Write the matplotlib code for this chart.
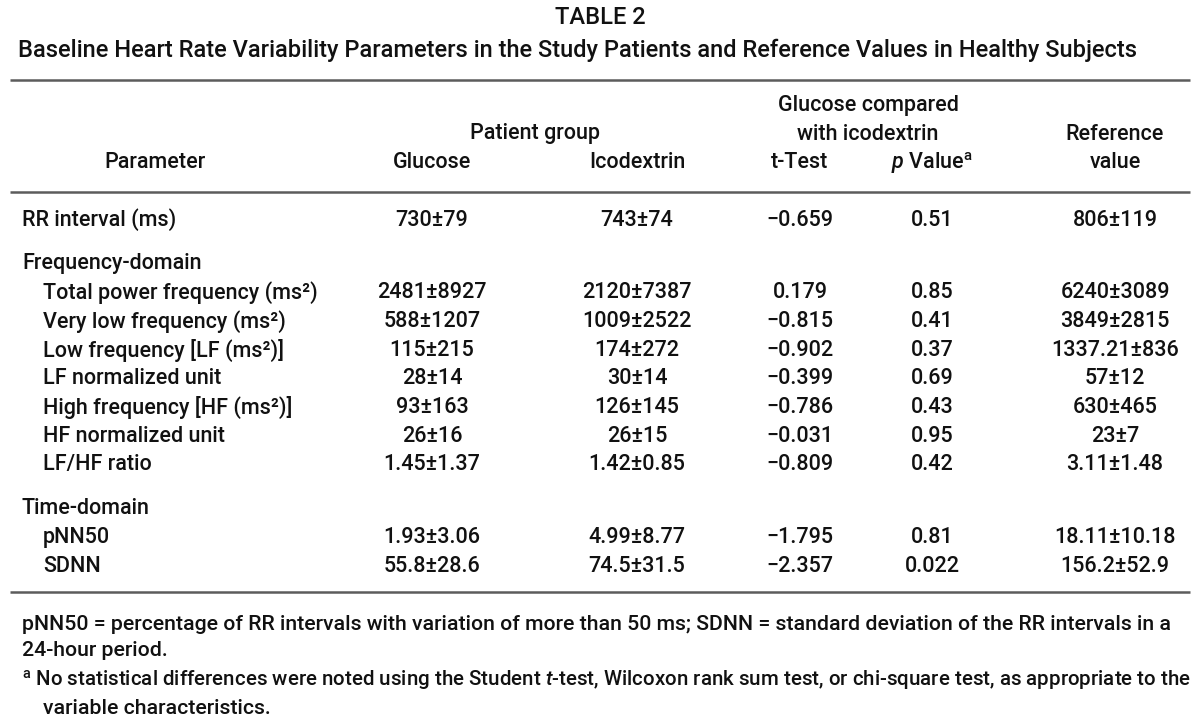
import matplotlib
matplotlib.use("Agg")
import matplotlib.pyplot as plt
from matplotlib import font_manager

# ───────────────────────────────
# DATA
params = ["RR interval (ms)",
          "Frequency-domain",
          "Total power frequency (ms²)",
          "Very low frequency (ms²)",
          "Low frequency [LF (ms²)]",
          "LF normalized unit",
          "High frequency [HF (ms²)]",
          "HF normalized unit",
          "LF/HF ratio",
          "Time-domain",
          "pNN50",
          "SDNN"]
row_kind = ["main", "section", "sub", "sub", "sub", "sub", "sub", "sub", "sub",
            "section", "sub", "sub"]
glucose = ["730±79", "", "2481±8927", "588±1207", "115±215", "28±14", "93±163",
           "26±16", "1.45±1.37", "", "1.93±3.06", "55.8±28.6"]
icodextrin = ["743±74", "", "2120±7387", "1009±2522", "174±272", "30±14", "126±145",
              "26±15", "1.42±0.85", "", "4.99±8.77", "74.5±31.5"]
t_test = ["−0.659", "", "0.179", "−0.815", "−0.902", "−0.399", "−0.786",
          "−0.031", "−0.809", "", "−1.795", "−2.357"]
p_value = ["0.51", "", "0.85", "0.41", "0.37", "0.69", "0.43",
           "0.95", "0.42", "", "0.81", "0.022"]
reference = ["806±119", "", "6240±3089", "3849±2815", "1337.21±836", "57±12", "630±465",
             "23±7", "3.11±1.48", "", "18.11±10.18", "156.2±52.9"]

title = "TABLE 2"
subtitle = ("Baseline Heart Rate Variability Parameters in the Study Patients "
            "and Reference Values in Healthy Subjects")
foot1a = ("pNN50 = percentage of RR intervals with variation of more than 50 ms; "
          "SDNN = standard deviation of the RR intervals in a")
foot1b = "24-hour period."
foot2a = (r"$^{\mathrm{a}}$ No statistical differences were noted using the Student "
          r"$\mathit{t}$-test, Wilcoxon rank sum test, or chi-square test, as appropriate to the")
foot2b = "variable characteristics."

# ───────────────────────────────
# FONT
names = {f.name for f in font_manager.fontManager.ttflist}
FONT = "Liberation Sans Narrow" if "Liberation Sans Narrow" in names else "Roboto"
plt.rcParams["font.family"] = [FONT, "DejaVu Sans"]
plt.rcParams["font.weight"] = "medium"
plt.rcParams["mathtext.fontset"] = "custom"
plt.rcParams["mathtext.rm"] = FONT + ":medium"
plt.rcParams["mathtext.it"] = FONT + ":italic:medium"

FS = 15.5
INK = "#111111"
RULE = "#5c5c5c"

fig = plt.figure(figsize=(12, 7.28), dpi=100)
ax = fig.add_axes([0, 0, 1, 1])
ax.set_xlim(0, 1200)
ax.set_ylim(728, 0)
ax.axis("off")

def txt(x, y, s, ha="center", size=FS, **kw):
    ax.text(x, y, s, ha=ha, va="center", fontsize=size, color=INK, **kw)

# titulo
txt(600, 18, title, size=17)
txt(578, 50, subtitle, size=17)

# reglas
ax.hlines([80, 192, 592], 10, 1190, color=RULE, lw=1.8)

# columnas
x_glu, x_ico, x_t, x_p, x_ref = 432, 637, 800, 932, 1115

txt(868, 106, "Glucose compared")
txt(535, 134, "Patient group")
txt(868, 134, "with icodextrin")
txt(x_ref, 134, "Reference")
txt(155, 163, "Parameter")
txt(x_glu, 163, "Glucose")
txt(x_ico, 163, "Icodextrin")
txt(x_t, 163, "t-Test")
txt(x_p, 163, r"$\mathit{p}$ Value$^{\mathrm{a}}$")
txt(x_ref, 163, "value")

# filas
y = 220
for i, lab in enumerate(params):
    if i > 0:
        y += 44 if row_kind[i] == "section" else 28.7
    x0 = 43 if row_kind[i] == "sub" else 22
    txt(x0, y, lab, ha="left")
    txt(x_glu, y, glucose[i])
    txt(x_ico, y, icodextrin[i])
    txt(x_t, y, t_test[i])
    txt(x_p, y, p_value[i])
    txt(x_ref, y, reference[i])

# notas
txt(22, 624, foot1a, ha="left", size=15.3)
txt(22, 651, foot1b, ha="left", size=15.3)
txt(22, 680, foot2a, ha="left", size=14.8)
txt(43, 708, foot2b, ha="left", size=15.3)

fig.savefig("out.png", dpi=100, facecolor="white")
